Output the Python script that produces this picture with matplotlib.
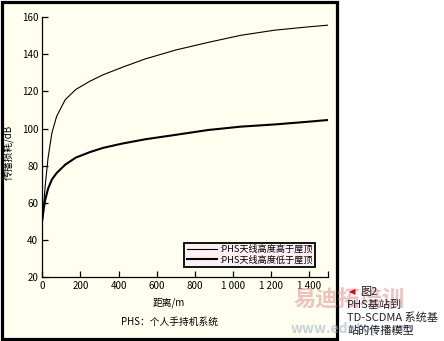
import matplotlib
matplotlib.use('Agg')
import matplotlib.pyplot as plt
from matplotlib.patches import Rectangle

plt.rcParams['font.family'] = ['Noto Sans CJK SC', 'DejaVu Sans']

# distance (m) and path loss (dB)
distance = [0, 8, 15, 30, 50, 75, 120, 175, 250, 320, 420, 540, 700, 870, 1040, 1220, 1400, 1500]
loss_high = [49, 60, 69, 84, 97.5, 106.5, 115.5, 121, 125.5, 129, 133, 137.5, 142.3, 146.4, 150.2, 153, 154.8, 155.7]
loss_low = [51, 57, 61.5, 67.5, 72.5, 76, 80.5, 84.3, 87.3, 89.6, 91.9, 94.2, 96.6, 99.2, 101, 102.2, 103.7, 104.6]

series_names = [':PHS天线高度高于屋顶', ':PHS天线高度低于屋顶']
xticks = [0, 200, 400, 600, 800, 1000, 1200, 1400, 1500]
xtick_labels = ['0', '200', '400', '600', '800', '1 000', '1 200', '1 400', '']
yticks = [20, 40, 60, 80, 100, 120, 140, 160]

cream = '#FFFFF0'

fig = plt.figure(figsize=(4.44, 3.41), dpi=100)
fig.patch.set_facecolor('white')

# cream panel with heavy black frame, behind everything
panel = Rectangle((0.004, 0.007), 0.756, 0.988, transform=fig.transFigure,
                  facecolor=cream, edgecolor='black', linewidth=2.3, zorder=-10)
fig.patches.append(panel)

ax = fig.add_axes([0.0953, 0.1877, 0.644, 0.762])
ax.set_facecolor('none')

ax.plot(distance, loss_high, color='black', linewidth=0.8, label=series_names[0])
ax.plot(distance, loss_low, color='black', linewidth=1.5, label=series_names[1])

ax.set_xlim(0, 1500)
ax.set_ylim(20, 160)
ax.set_xticks(xticks)
ax.set_xticklabels(xtick_labels)
ax.set_yticks(yticks)
ax.tick_params(direction='in', length=4.5, width=0.9, labelsize=7, pad=3)

for side in ['top', 'right']:
    ax.spines[side].set_visible(False)
for side in ['left', 'bottom']:
    ax.spines[side].set_linewidth(0.9)

ax.set_xlabel('距离/m', fontsize=7)
ax.xaxis.set_label_coords(0.443, -0.08)
ax.set_ylabel('传播损耗/dB', fontsize=7)
ax.yaxis.set_label_coords(-0.10, 0.48)

leg = ax.legend(loc='lower left', bbox_to_anchor=(0.497, 0.04), fontsize=6.6,
                frameon=True, fancybox=False, handlelength=3.3, handletextpad=0.3,
                borderpad=0.25, labelspacing=0.1, borderaxespad=0)
leg.get_frame().set_facecolor('#FFF0F6')
leg.get_frame().set_edgecolor('black')
leg.get_frame().set_linewidth(1.3)
leg.get_frame().set_alpha(1)

fig.text(0.272, 0.056, 'PHS：个人手持机系统', fontsize=7, ha='left', va='center')

# watermark (faint)
fig.text(0.66, 0.12, '易迪拓培训', fontsize=16, color='#E39A9A', alpha=0.6,
         ha='left', va='center', fontweight='bold', zorder=1)
fig.text(0.655, 0.035, 'www.edatop.com', fontsize=10, color='#9FB3C8', alpha=0.6,
         ha='left', va='center', fontweight='bold', zorder=1)

# caption on the right
fig.text(0.786, 0.145, '◀', fontsize=6, color='#E0001B', ha='left', va='center', zorder=3,
         family=['DejaVu Sans'])
fig.text(0.81, 0.145, '图2', fontsize=8, color='#222222', ha='left', va='center', zorder=3)
fig.text(0.782, 0.107, 'PHS基站到', fontsize=8, color='#222222', ha='left', va='center', zorder=3)
fig.text(0.782, 0.069, 'TD-SCDMA 系统基', fontsize=8, color='#222222', ha='left', va='center', zorder=3)
fig.text(0.782, 0.031, '站的传播模型', fontsize=8, color='#222222', ha='left', va='center', zorder=3)

fig.savefig('out.png', dpi=100, facecolor=fig.get_facecolor())
